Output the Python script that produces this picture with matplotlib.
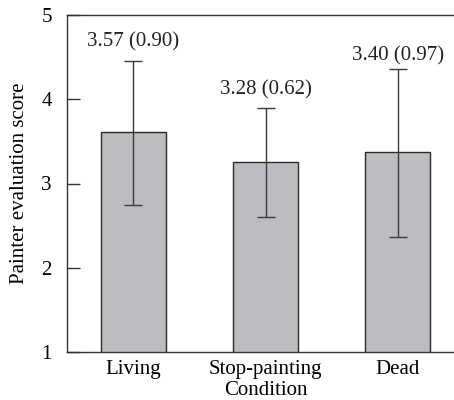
import matplotlib
matplotlib.use("Agg")
import matplotlib.pyplot as plt

plt.rcParams['font.family'] = ['Liberation Serif', 'DejaVu Serif']

# values
conditions = ["Living", "Stop-painting", "Dead"]
bar_means = [3.61, 3.25, 3.37]
err_lower = [0.86, 0.65, 1.00]
err_upper = [0.84, 0.65, 0.99]
label_texts = ["3.57 (0.90)", "3.28 (0.62)", "3.40 (0.97)"]
label_y = [4.68, 4.11, 4.52]
yticks = [1, 2, 3, 4, 5]

fig = plt.figure(figsize=(4.54, 4.0), dpi=100)
ax = fig.add_axes([67 / 454, 48 / 400, 397 / 454, 337 / 400])

x = range(len(conditions))
ax.bar(x, bar_means, width=0.49, color="#bcbdc0", edgecolor="#2a2a2a",
       linewidth=1.0, zorder=2)
ax.errorbar(x, bar_means, yerr=[err_lower, err_upper], fmt="none",
            ecolor="#3a3a3a", elinewidth=1.0, capsize=6.7, capthick=1.0,
            zorder=3)

fs = 15
for xi, yi, t in zip(x, label_y, label_texts):
    ax.text(xi, yi, t, ha="center", va="center", fontsize=fs, color="#222222")

ax.set_xlim(-0.5, 2.5)
ax.set_ylim(1, 5)
ax.set_yticks(yticks)
ax.set_xticks(list(x))
ax.set_xticklabels(conditions, fontsize=fs)
ax.tick_params(axis="x", length=0, pad=6)
ax.tick_params(axis="y", direction="in", length=9.5, width=1.0, pad=11,
               labelsize=fs, color="#333333")
ax.set_ylabel("Painter evaluation score", fontsize=fs, labelpad=9)
ax.set_xlabel("Condition", fontsize=fs, labelpad=1)

for s in ax.spines.values():
    s.set_color("#333333")
    s.set_linewidth(1.0)
ax.spines["right"].set_visible(False)

fig.savefig("out.png", dpi=100)
